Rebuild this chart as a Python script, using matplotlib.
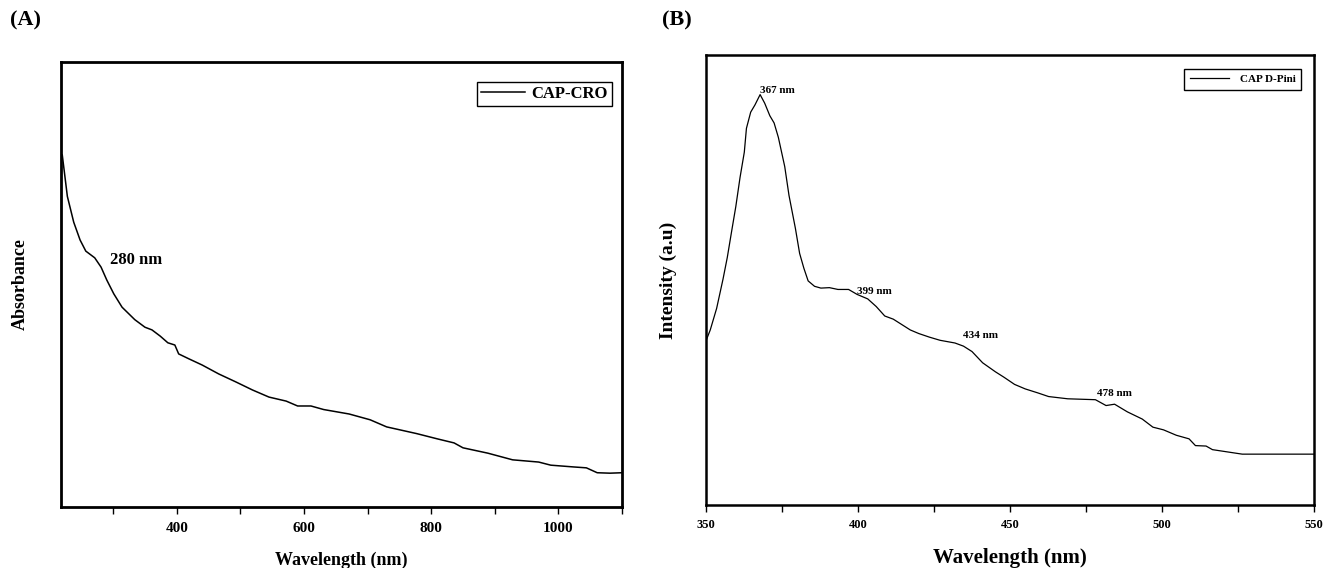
import matplotlib
matplotlib.use("Agg")
import matplotlib.pyplot as plt
from matplotlib.ticker import MultipleLocator, NullFormatter

plt.rcParams['font.family'] = ['Liberation Serif', 'DejaVu Serif']
plt.rcParams['font.weight'] = 'bold'

# Panel A: UV-Vis absorbance of CAP-CRO
wl_a = [220, 228, 238, 248, 257, 271, 281, 290, 301, 314, 334, 350, 361, 374, 386,
        397, 403, 419, 440, 466, 493, 519, 545, 572, 590, 611, 631, 671, 704, 730,
        777, 810, 836, 850, 889, 928, 969, 988, 1024, 1044, 1061, 1081, 1100]
abs_a = [0.791, 0.698, 0.640, 0.600, 0.575, 0.560, 0.539, 0.510, 0.479, 0.449, 0.421,
         0.404, 0.398, 0.384, 0.369, 0.364, 0.344, 0.333, 0.319, 0.299, 0.281, 0.263,
         0.247, 0.238, 0.227, 0.227, 0.219, 0.209, 0.196, 0.180, 0.165, 0.153, 0.144,
         0.133, 0.121, 0.106, 0.101, 0.094, 0.090, 0.088, 0.077, 0.076, 0.077]
peak_a = 280

# Panel B: fluorescence intensity of CAP D-Pini
wl_b = [350, 351.4, 353.5, 355.6, 357, 358.4, 359.8, 361.2, 362.6, 363.3, 364.7, 366.1,
        367.8, 369.3, 371, 372.4, 373.8, 375.9, 377.3, 379.4, 380.8, 382.2, 383.6, 385.7,
        387.8, 390.6, 393.4, 396.9, 399.7, 403.2, 406, 408.8, 411.6, 414.4, 417.2, 420,
        423.5, 427, 431.9, 434.7, 437.5, 441, 445.2, 448, 451.5, 455, 459.2, 462.7, 469,
        478.1, 481.6, 484.4, 488.6, 493.5, 497, 500.5, 504.7, 508.9, 511, 514.5, 516.6,
        521.5, 526.4, 550]
int_b = [0.365, 0.389, 0.437, 0.502, 0.550, 0.607, 0.663, 0.728, 0.784, 0.837, 0.873, 0.889,
         0.912, 0.893, 0.865, 0.849, 0.817, 0.752, 0.688, 0.615, 0.559, 0.526, 0.498, 0.486,
         0.482, 0.483, 0.479, 0.479, 0.468, 0.458, 0.441, 0.420, 0.413, 0.401, 0.389, 0.381,
         0.373, 0.366, 0.360, 0.353, 0.341, 0.316, 0.296, 0.284, 0.268, 0.258, 0.249, 0.241,
         0.236, 0.234, 0.221, 0.224, 0.207, 0.191, 0.173, 0.167, 0.155, 0.147, 0.132, 0.131,
         0.123, 0.118, 0.113, 0.113]
peaks_b = [367, 399, 434, 478]
peak_b_y = [0.922, 0.475, 0.377, 0.248]

fig = plt.figure(figsize=(13.26, 5.68), dpi=100)

# ---- Panel A ----
axA = fig.add_axes([61/1326, 61/568, 561/1326, 445/568])
axA.plot(wl_a, abs_a, color='black', lw=1.1, label='CAP-CRO')
axA.set_xlim(218, 1100)
axA.set_ylim(0, 1)
axA.set_yticks([])
axA.xaxis.set_major_locator(MultipleLocator(200))
axA.xaxis.set_minor_locator(MultipleLocator(100))
axA.xaxis.set_minor_formatter(NullFormatter())
axA.tick_params(axis='x', which='both', direction='out', length=5, width=1.0,
                labelsize=11, pad=6)
for lab in axA.get_xticklabels():
    lab.set_fontweight('bold')
for s in axA.spines.values():
    s.set_linewidth(2.0)
axA.set_xlabel('Wavelength (nm)', fontsize=13, fontweight='bold', labelpad=12)
axA.set_ylabel('Absorbance', fontsize=13, fontweight='bold', labelpad=23)
axA.text(295, 0.555, f'{peak_a} nm', fontsize=12, fontweight='bold', va='center', ha='left')
legA = axA.legend(loc='upper right', bbox_to_anchor=(0.982, 0.955), fancybox=False,
                  edgecolor='black', framealpha=1, prop={'size': 12, 'weight': 'bold'},
                  handlelength=2.6, borderpad=0.25, handletextpad=0.4, borderaxespad=0)
legA.get_frame().set_linewidth(1.0)
fig.text(10/1326, 1 - 20/568, '(A)', fontsize=16, fontweight='bold', va='center', ha='left')

# ---- Panel B ----
axB = fig.add_axes([706/1326, 63/568, 608/1326, 450/568])
axB.plot(wl_b, int_b, color='black', lw=0.9, label='CAP D-Pini')
axB.set_xlim(350, 550)
axB.set_ylim(0, 1)
axB.set_yticks([])
axB.xaxis.set_major_locator(MultipleLocator(50))
axB.xaxis.set_minor_locator(MultipleLocator(25))
axB.xaxis.set_minor_formatter(NullFormatter())
axB.tick_params(axis='x', which='both', direction='out', length=5, width=1.0,
                labelsize=9, pad=5)
for lab in axB.get_xticklabels():
    lab.set_fontweight('bold')
for s in axB.spines.values():
    s.set_linewidth(1.8)
axB.set_xlabel('Wavelength (nm)', fontsize=15, fontweight='bold', labelpad=12)
axB.set_ylabel('Intensity (a.u)', fontsize=14, fontweight='bold', labelpad=21)
for px, py in zip(peaks_b, peak_b_y):
    axB.text(px + 0.6, py, f'{px} nm', fontsize=8, fontweight='bold', va='center', ha='left')
legB = axB.legend(loc='upper right', bbox_to_anchor=(0.9786, 0.969), fancybox=False,
                  edgecolor='black', framealpha=1, prop={'size': 8, 'weight': 'bold'},
                  handlelength=3.5, borderpad=0.5, handletextpad=1.0, borderaxespad=0)
legB.get_frame().set_linewidth(1.0)
fig.text(662/1326, 1 - 20/568, '(B)', fontsize=16, fontweight='bold', va='center', ha='left')

fig.savefig('out.png', dpi=100)
